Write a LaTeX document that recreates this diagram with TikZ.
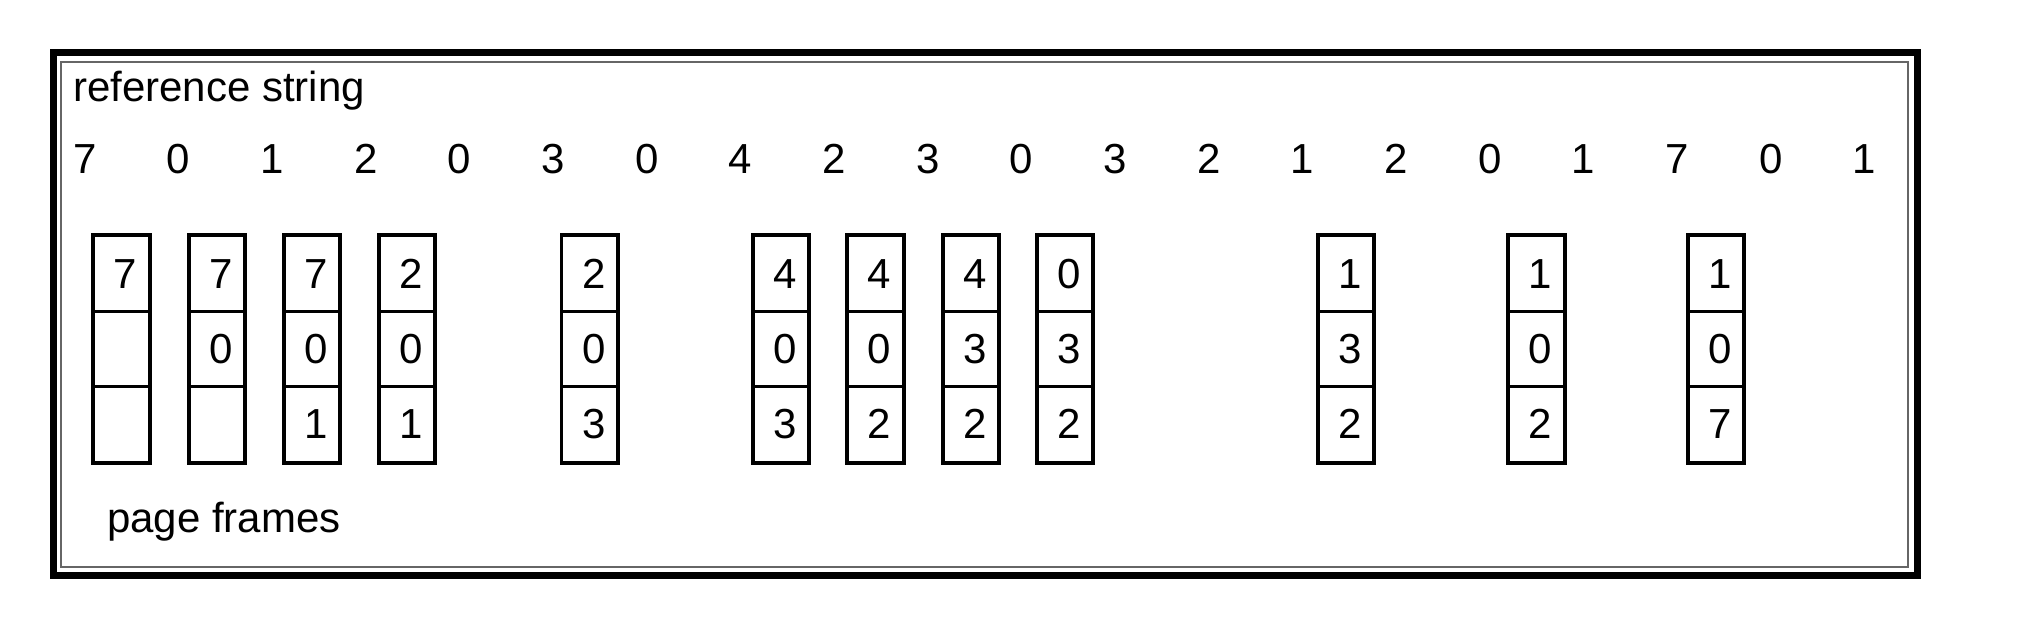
\documentclass[tikz,border=0pt]{standalone}
\usepackage{fontspec}
\setmainfont{Liberation Sans}
\begin{document}
\begin{tikzpicture}[x=1pt,y=-1pt,
  bigfont/.style={font=\fontsize{42}{50}\selectfont},
  lbl/.style={bigfont, inner sep=0pt, anchor=base west},
  refnum/.style={bigfont, inner sep=0pt, anchor=base},
  cell/.style={draw, line width=2.4pt, minimum width=55pt, minimum height=75.33pt, inner sep=0pt, bigfont},
  frameline/.style={line width=3pt},
]
\useasboundingbox (0,0) rectangle (2032,628);
% outer double frame
\draw[line width=7pt] (53.5,52.5) rectangle (1917.5,575.5);
\draw[line width=2pt, black!60] (61,62) rectangle (1908,566.5);
% labels
\node[lbl] (reflbl) at (73,102) {reference string};
\node[lbl] (pflbl) at (107,532.5) {page frames};
% reference string
\foreach \d [count=\i from 0] in {7,0,1,2,0,3,0,4,2,3,0,3,2,1,2,0,1,7,0,1}{
  \node[refnum] (r\i) at ({85+93.65*\i},174) {\d};
}
% page frames
\foreach \name/\cx/\a/\b/\c in {
  f0/121.5/7/{}/{},
  f1/217/7/0/{},
  f2/312/7/0/1,
  f3/407/2/0/1,
  f5/589.7/2/0/3,
  f7/780.8/4/0/3,
  f8/875.3/4/0/2,
  f9/970.8/4/3/2,
  f10/1065/0/3/2,
  f13/1345.8/1/3/2,
  f15/1536.3/1/0/2,
  f17/1715.8/1/0/7}{
  \node[cell] (\name-1) at (\cx,273.67) {\hspace{8pt}\a};
  \node[cell] (\name-2) at (\cx,349) {\hspace{8pt}\b};
  \node[cell] (\name-3) at (\cx,424.33) {\hspace{8pt}\c};
  \draw[frameline] (\name-1.north west) rectangle (\name-3.south east);
}
\end{tikzpicture}
\end{document}
